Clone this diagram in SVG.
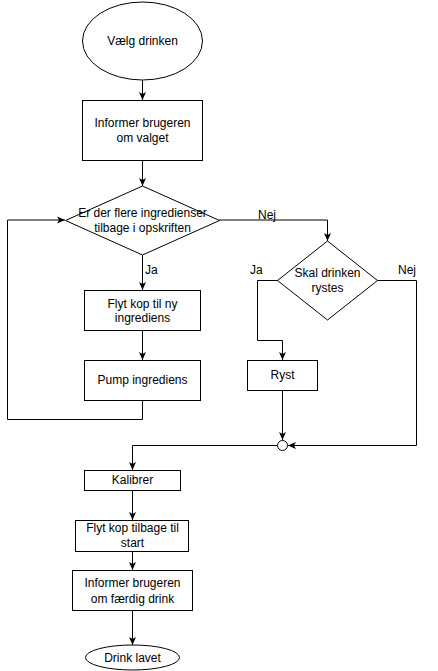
<svg xmlns="http://www.w3.org/2000/svg" width="438" height="671" viewBox="0 0 438 671">
<style>
.s{fill:#fff;stroke:#000;stroke-width:1}
.t{font-family:"Liberation Sans",Arial,sans-serif;font-size:12px;fill:#000;text-anchor:middle}
.l{font-family:"Liberation Sans",Arial,sans-serif;font-size:12px;fill:#000}
.c{fill:none;stroke:#000;stroke-width:1}
</style>
<defs>
<marker id="a" markerWidth="8" markerHeight="8" viewBox="0 0 8 8" refX="8" refY="4" orient="auto" markerUnits="userSpaceOnUse">
<path d="M0,0.5 L8,4 L0,7.5 L2,4 z" fill="#000"/>
</marker>
</defs>
<rect width="438" height="671" fill="#fff"/>
<g id="connectors">
<path class="c" d="M142.5,80 V100" marker-end="url(#a)"/>
<path class="c" d="M142.5,160 V186" marker-end="url(#a)"/>
<path class="c" d="M142.5,255 V290" marker-end="url(#a)"/>
<path class="c" d="M142.5,330 V360" marker-end="url(#a)"/>
<path class="c" d="M142.5,400 V419.5 H7.5 V220 H65" marker-end="url(#a)"/>
<path class="c" d="M219,220 H327.5 V241" marker-end="url(#a)"/>
<path class="c" d="M278,280.5 H257.5 V340.5 H282.5 V360" marker-end="url(#a)"/>
<path class="c" d="M377,280.5 H416.5 V445.5 H288" marker-end="url(#a)"/>
<path class="c" d="M282.5,391 V440" marker-end="url(#a)"/>
<path class="c" d="M277.5,445.5 H132.5 V470" marker-end="url(#a)"/>
<path class="c" d="M132.5,490 V520" marker-end="url(#a)"/>
<path class="c" d="M132.5,551 V570" marker-end="url(#a)"/>
<path class="c" d="M132.5,610 V645" marker-end="url(#a)"/>
<text class="l" x="145" y="274">Ja</text>
<text class="l" x="258" y="219">Nej</text>
<text class="l" x="250" y="274">Ja</text>
<text class="l" x="398" y="274">Nej</text>
</g>
<g id="start">
<ellipse class="s" cx="142.5" cy="41" rx="60" ry="39"/>
<text class="t" x="142.5" y="45">Vælg drinken</text>
</g>
<g id="inform1">
<rect class="s" x="82.5" y="100.5" width="120" height="60"/>
<text class="t" x="142.5" y="127">Informer brugeren</text>
<text class="t" x="142.5" y="142">om valget</text>
</g>
<g id="decision1">
<path class="s" d="M142.5,186 L219.5,220.5 L142.5,255 L65.5,220.5 Z"/>
<text class="t" x="142.5" y="217">Er der flere ingredienser</text>
<text class="t" x="142.5" y="232">tilbage i opskriften</text>
</g>
<g id="move">
<rect class="s" x="84.5" y="290.5" width="116" height="40"/>
<text class="t" x="142.5" y="308">Flyt kop til ny</text>
<text class="t" x="142.5" y="322">ingrediens</text>
</g>
<g id="pump">
<rect class="s" x="84.5" y="360.5" width="116" height="40"/>
<text class="t" x="142.5" y="384">Pump ingrediens</text>
</g>
<g id="decision2">
<path class="s" d="M327.5,241 L377.5,280.5 L327.5,320 L277.5,280.5 Z"/>
<text class="t" x="327.5" y="277">Skal drinken</text>
<text class="t" x="327.5" y="292">rystes</text>
</g>
<g id="shake">
<rect class="s" x="247.5" y="360.5" width="70" height="30"/>
<text class="t" x="282.5" y="379">Ryst</text>
</g>
<g id="merge">
<circle class="s" cx="282.5" cy="445.5" r="5"/>
</g>
<g id="calibrate">
<rect class="s" x="84.5" y="470.5" width="96" height="20"/>
<text class="t" x="132.5" y="484">Kalibrer</text>
</g>
<g id="return">
<rect class="s" x="75.5" y="520.5" width="113" height="31"/>
<text class="t" x="132.5" y="532">Flyt kop tilbage til</text>
<text class="t" x="132.5" y="547">start</text>
</g>
<g id="inform2">
<rect class="s" x="72.5" y="570.5" width="120" height="40"/>
<text class="t" x="132.5" y="587">Informer brugeren</text>
<text class="t" x="132.5" y="603">om færdig drink</text>
</g>
<g id="end">
<ellipse class="s" cx="132.5" cy="657.5" rx="47" ry="12.5"/>
<text class="t" x="132.5" y="661.5">Drink lavet</text>
</g>
</svg>
